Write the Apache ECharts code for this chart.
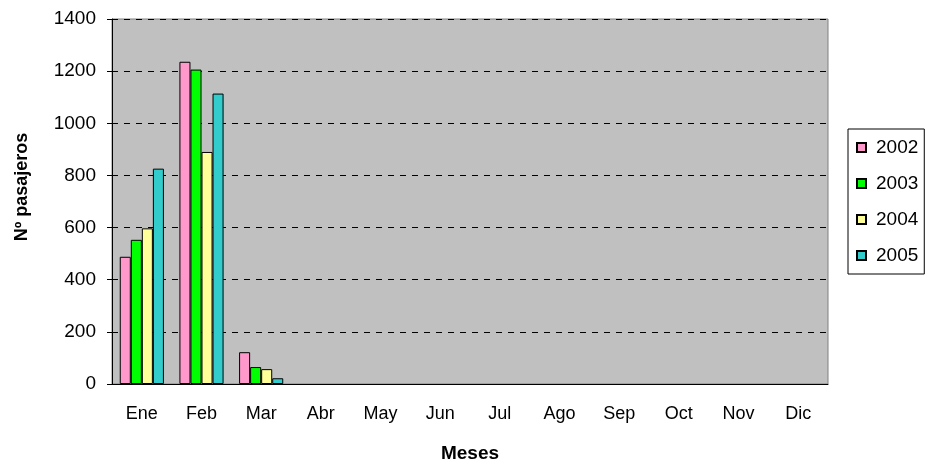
<!DOCTYPE html>
<html>
<head>
<meta charset="utf-8">
<script src="https://cdn.jsdelivr.net/npm/echarts@6/dist/echarts.min.js"></script>
<style>
html,body{margin:0;padding:0;background:#fff;}
#chart{width:927px;height:463px;}
</style>
</head>
<body>
<div id="chart"></div>
<script>
var meses = ['Ene','Feb','Mar','Abr','May','Jun','Jul','Ago','Sep','Oct','Nov','Dic'];
var anios = ['2002','2003','2004','2005'];
var colores = ['#FF99CC','#00FF00','#FFFF99','#33CCCC'];
// meses sin dato quedan vacios (null)
var v2002 = [488,1236,122,null,null,null,null,null,null,null,null,null];
var v2003 = [553,1206,65,null,null,null,null,null,null,null,null,null];
var v2004 = [597,890,57,null,null,null,null,null,null,null,null,null];
var v2005 = [826,1114,22,null,null,null,null,null,null,null,null,null];
var valores = [v2002,v2003,v2004,v2005];

var myChart = echarts.init(document.getElementById('chart'));
var series = [];
for (var i = 0; i < anios.length; i++) {
  series.push({
    name: anios[i],
    type: 'bar',
    data: valores[i],
    barGap: '0%',
    barCategoryGap: '26%',
    itemStyle: { color: colores[i], borderColor: '#000', borderWidth: 1 }
  });
}
myChart.setOption({
  animation: false,
  textStyle: { fontFamily: 'Liberation Sans, Arial, sans-serif' },
  grid: {
    left: 112, right: 99, top: 19, bottom: 79,
    outerBoundsMode: 'none',
    show: true, backgroundColor: '#C0C0C0', borderColor: '#808080', borderWidth: 1
  },
  legend: {
    orient: 'vertical',
    left: 848, top: 129,
    padding: [9, 6, 9, 8],
    itemGap: 17,
    itemWidth: 9, itemHeight: 9,
    icon: 'rect',
    borderColor: '#000', borderWidth: 1,
    textStyle: { fontSize: 19, color: '#000', padding: [0, 0, 0, 5] },
    data: anios
  },
  xAxis: {
    type: 'category',
    data: meses,
    name: 'Meses',
    nameLocation: 'middle',
    nameGap: 60,
    nameTextStyle: { fontSize: 19, fontWeight: 'bold', color: '#000' },
    axisLine: { lineStyle: { color: '#000' } },
    axisTick: { length: 5, lineStyle: { color: '#000' } },
    axisLabel: { fontSize: 18, color: '#000', margin: 21 }
  },
  yAxis: {
    type: 'value',
    min: 0, max: 1400, interval: 200,
    name: 'Nº pasajeros',
    nameLocation: 'middle',
    nameGap: 81,
    nameTextStyle: { fontSize: 18, fontWeight: 'bold', color: '#000', padding: [0, 0, 0, 29] },
    axisLine: { show: true, lineStyle: { color: '#000' } },
    axisTick: { show: true, length: 5, lineStyle: { color: '#000' } },
    axisLabel: { fontSize: 19, color: '#000', margin: 16, formatter: function (v) { return String(v); } },
    splitLine: { lineStyle: { color: '#000', type: [6, 6], width: 1 } }
  },
  series: series
});
</script>
</body>
</html>
